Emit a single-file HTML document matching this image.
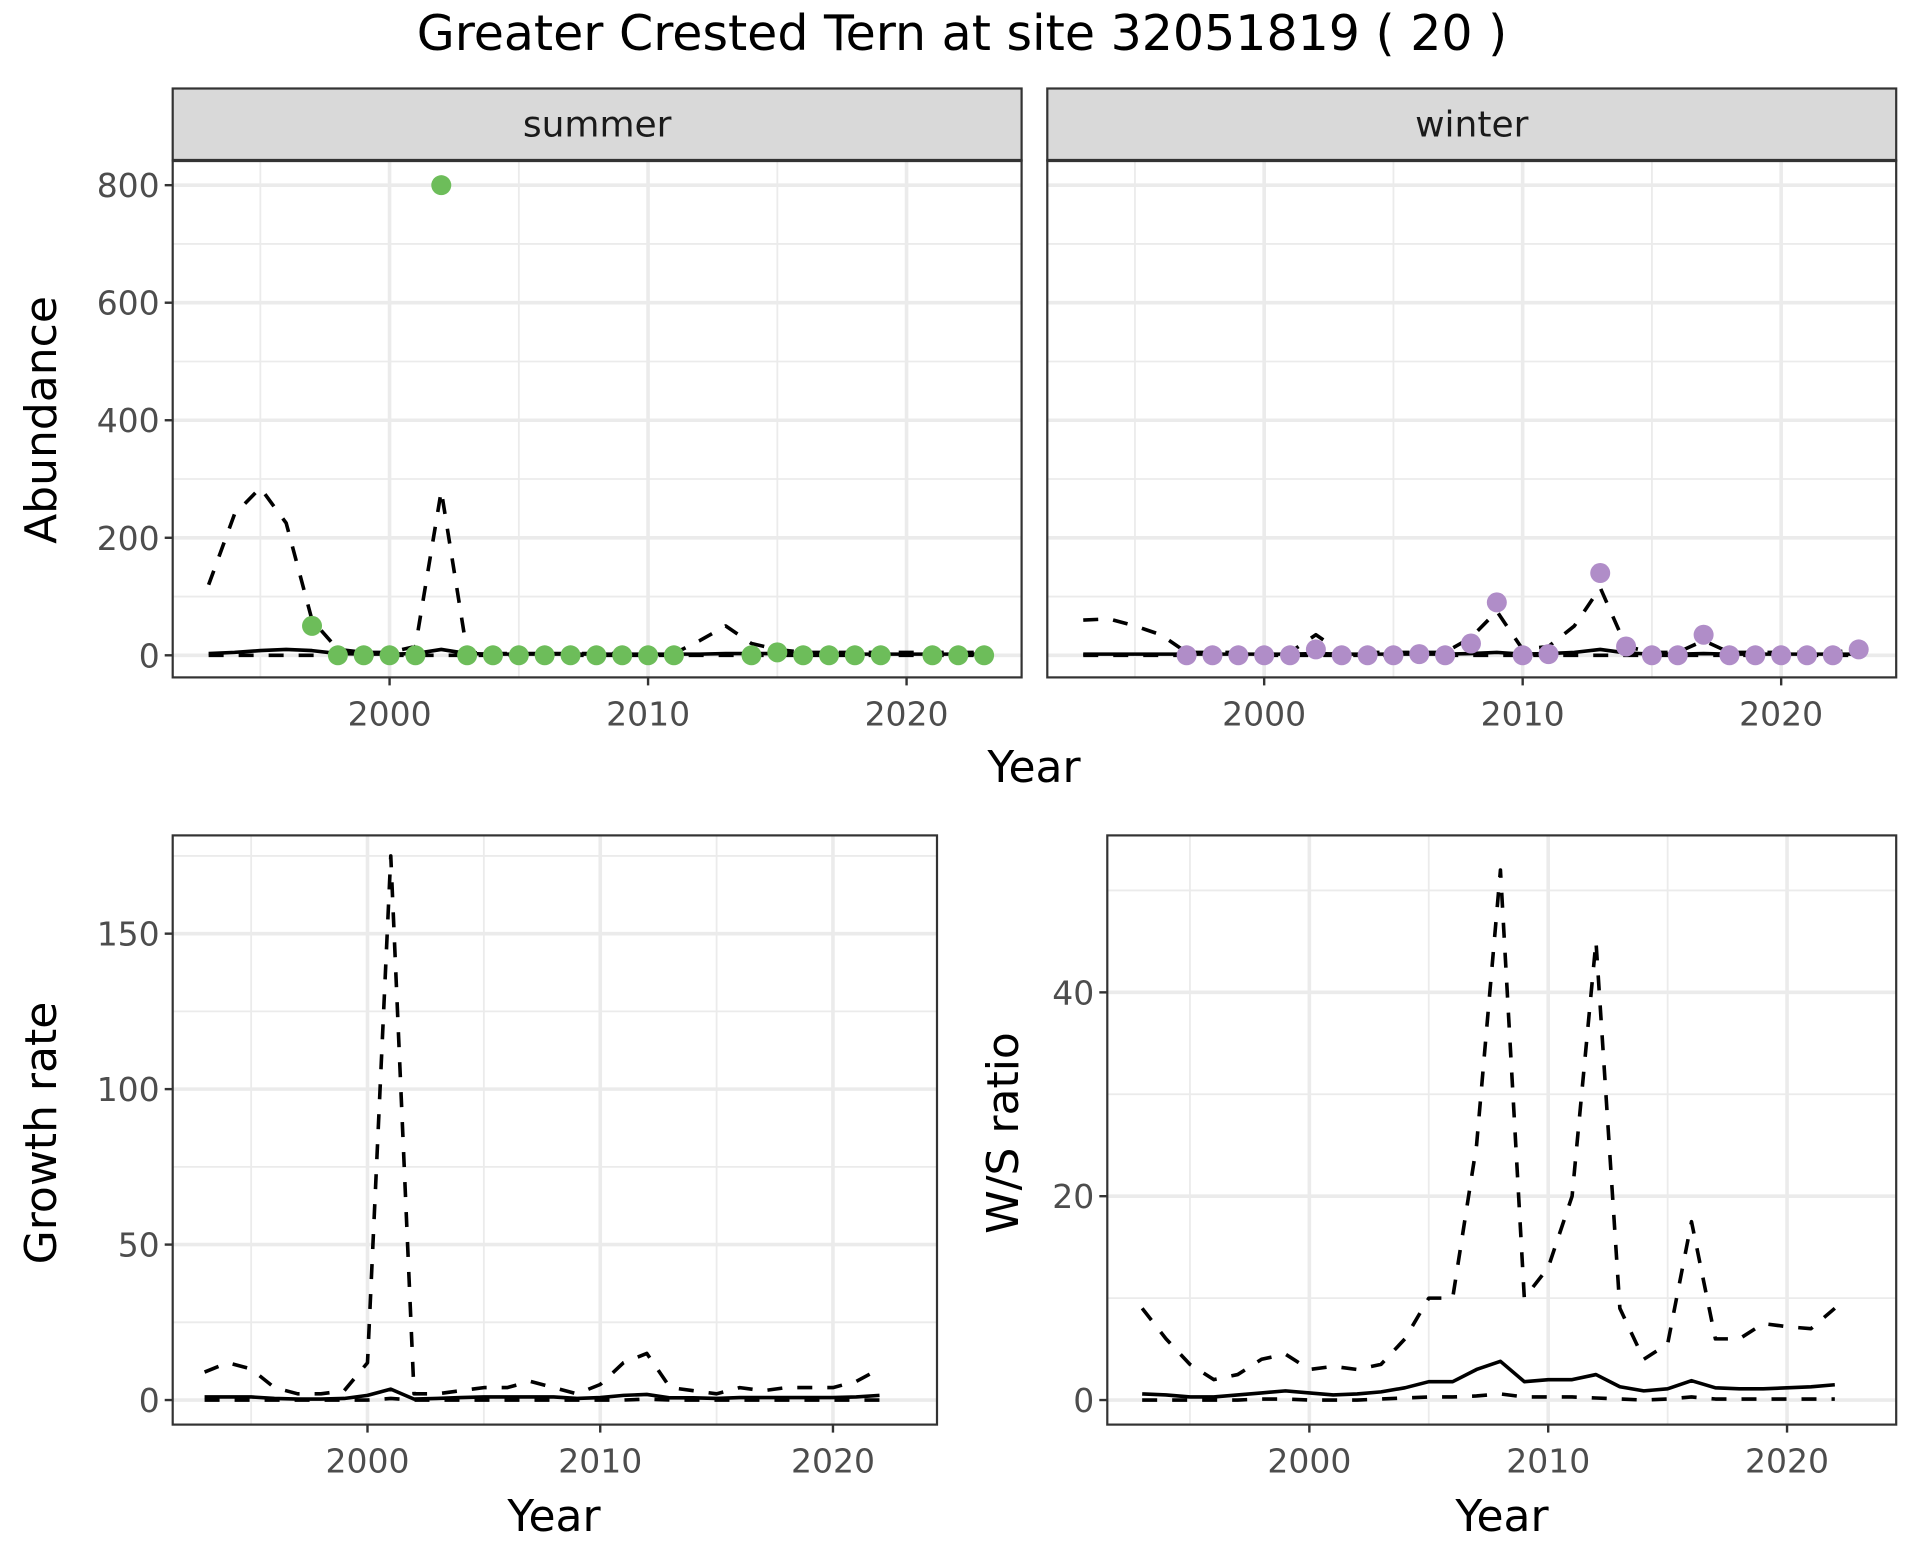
<!DOCTYPE html>
<html><head><meta charset="utf-8">
<style>
html,body{margin:0;padding:0;background:#fff;}
svg{display:block;font-family:"DejaVu Sans","Liberation Sans",sans-serif;}
</style></head>
<body>
<svg id="chart" width="1920" height="1560" viewBox="0 0 1920 1560" xmlns="http://www.w3.org/2000/svg">
<text x="962" y="50" font-size="49" text-anchor="middle" fill="#000">Greater Crested Tern at site 32051819 ( 20 )</text>
</svg>
<script>
const yearsAll = [1993,1994,1995,1996,1997,1998,1999,2000,2001,2002,2003,2004,2005,2006,2007,2008,2009,2010,2011,2012,2013,2014,2015,2016,2017,2018,2019,2020,2021,2022,2023];
const summerPtYears = [1997,1998,1999,2000,2001,2002,2003,2004,2005,2006,2007,2008,2009,2010,2011,2014,2015,2016,2017,2018,2019,2021,2022,2023];
const summerPtVals = [50,0,0,0,0,800,0,0,0,0,0,0,0,0,0,0,5,0,0,0,0,0,0,0];
const summerUpper = [120,240,285,225,60,10,5,5,15,280,5,3,3,3,3,3,3,3,3,25,50,20,10,5,5,5,5,5,5,5,5];
const summerMid = [3,5,8,10,8,3,2,2,3,10,3,2,2,2,2,2,2,2,2,2,3,3,3,2,2,2,2,2,2,2,2];
const summerLower = [0,0,0,0,0,0,0,0,0,0,0,0,0,0,0,0,0,0,0,0,0,0,0,0,0,0,0,0,0,0,0];
const winterPtYears = [1997,1998,1999,2000,2001,2002,2003,2004,2005,2006,2007,2008,2009,2010,2011,2013,2014,2015,2016,2017,2018,2019,2020,2021,2022,2023];
const winterPtVals = [0,0,0,0,0,10,0,0,0,2,0,20,90,0,2,140,15,0,0,35,0,0,0,0,0,10];
const winterUpper = [60,62,50,35,5,5,5,5,5,35,5,5,5,5,5,30,75,10,15,50,115,15,5,5,25,5,5,5,5,5,10];
const winterMid = [2,2,2,2,2,2,2,2,2,3,2,2,2,2,2,3,5,2,3,5,10,4,2,2,3,2,2,2,2,2,2];
const winterLower = [0,0,0,0,0,0,0,0,0,0,0,0,0,0,0,0,0,0,0,0,0,0,0,0,0,0,0,0,0,0,0];
const growthYears = [1993,1994,1995,1996,1997,1998,1999,2000,2001,2002,2003,2004,2005,2006,2007,2008,2009,2010,2011,2012,2013,2014,2015,2016,2017,2018,2019,2020,2021,2022];
const growthUpper = [9,12,10,4,2,2,3,12,175,2,2,3,4,4,6,4,2,5,12,15,4,3,2,4,3,4,4,4,6,10];
const growthMid = [1,1,1,0.5,0.3,0.3,0.5,1.5,3.5,0.3,0.5,0.8,1,1,1,1,0.5,0.8,1.5,1.8,0.7,0.7,0.5,0.8,0.8,0.8,0.8,0.8,1,1.5];
const growthLower = [0,0,0,0,0,0,0,0,0.5,0,0,0,0,0,0,0,0,0,0,0.3,0,0,0,0,0,0,0,0,0,0];
const ratioUpper = [9,6,3.5,2,2.5,4,4.5,3,3.3,3,3.5,6,10,10,25,52,10,13,20,45,9,4,5.5,17.5,6,6,7.5,7.2,7,9];
const ratioMid = [0.6,0.5,0.3,0.3,0.5,0.7,0.9,0.7,0.5,0.6,0.8,1.2,1.8,1.8,3,3.8,1.8,2,2,2.5,1.3,0.9,1.1,1.9,1.2,1.1,1.1,1.2,1.3,1.5];
const ratioLower = [0,0,0,0,0,0.1,0.1,0,0,0,0.1,0.2,0.3,0.3,0.4,0.6,0.3,0.3,0.3,0.2,0.1,0,0.1,0.3,0.1,0.1,0.1,0.1,0.1,0.1];
const xTicks = [2000,2010,2020];
const xMinor = [1995,2005,2015];
const abTicks = [0,200,400,600,800];
const abMinor = [100,300,500,700];
const grTicks = [0,50,100,150];
const grMinor = [25,75,125,175];
const raTicks = [0,20,40];
const raMinor = [10,30,50];

const NS='http://www.w3.org/2000/svg';
const svg=document.getElementById('chart');
function mk(tag,attrs,parent){const e=document.createElementNS(NS,tag);for(const k in attrs)e.setAttribute(k,attrs[k]);(parent||svg).appendChild(e);return e;}

function panel(o){
  const g=mk('g',{});
  
  
  const sx=v=>o.x0+(v-o.xd0)*(o.x1-o.x0)/(o.xd1-o.xd0);
  const sy=v=>o.y1-(v-o.yd0)*(o.y1-o.y0)/(o.yd1-o.yd0);
  mk('rect',{x:o.x0,y:o.y0,width:o.x1-o.x0,height:o.y1-o.y0,fill:'#fff'},g);
  o.yMinor.forEach(v=>{const y=sy(v);if(y>o.y0&&y<o.y1)mk('line',{x1:o.x0,x2:o.x1,y1:y,y2:y,stroke:'#ebebeb','stroke-width':1.8},g);});
  xMinor.forEach(v=>{const x=sx(v);mk('line',{x1:x,x2:x,y1:o.y0,y2:o.y1,stroke:'#ebebeb','stroke-width':1.8},g);});
  o.yTicks.forEach(v=>{const y=sy(v);mk('line',{x1:o.x0,x2:o.x1,y1:y,y2:y,stroke:'#ebebeb','stroke-width':3.6},g);});
  xTicks.forEach(v=>{const x=sx(v);mk('line',{x1:x,x2:x,y1:o.y0,y2:o.y1,stroke:'#ebebeb','stroke-width':3.6},g);});
  const line=(ys,vals,dash,nm)=>{
    const p=mk('polyline',{points:ys.map((yy,i)=>sx(yy)+','+sy(vals[i])).join(' '),fill:'none',stroke:'#000','stroke-width':3.6,'stroke-linejoin':'round'},g);
    if(dash)p.setAttribute('stroke-dasharray','15,15');
    
    
  };
  line(o.lx,o.lower,true,'lower-bound-line');
  line(o.lx,o.upper,true,'upper-bound-line');
  line(o.lx,o.mid,false,'estimate-line');
  if(o.px){o.px.forEach((yy,i)=>{
    const c=mk('circle',{cx:sx(yy),cy:sy(o.pv[i]),r:10,fill:o.color},g);
    
    
  });}
  mk('rect',{x:o.x0,y:o.y0,width:o.x1-o.x0,height:o.y1-o.y0,fill:'none',stroke:'#333','stroke-width':2.2},g);
  if(o.yLabels){o.yTicks.forEach(v=>{const y=sy(v);
    mk('line',{x1:o.x0-8,x2:o.x0,y1:y,y2:y,stroke:'#333','stroke-width':2.4},g);
    const t=mk('text',{x:o.x0-13,y:y+12,'font-size':33,'text-anchor':'end',fill:'#4d4d4d'},g);t.textContent=v;
    
    
  });}
  xTicks.forEach(v=>{const x=sx(v);
    mk('line',{x1:x,x2:x,y1:o.y1,y2:o.y1+8,stroke:'#333','stroke-width':2.4},g);
    const t=mk('text',{x:x,y:o.y1+48,'font-size':33,'text-anchor':'middle',fill:'#4d4d4d'},g);t.textContent=v;
    
    
  });
  if(o.strip){
    mk('rect',{x:o.x0,y:o.y0-72,width:o.x1-o.x0,height:72,fill:'#d9d9d9',stroke:'#333','stroke-width':2.2},g);
    mk('line',{x1:o.x0,x2:o.x1,y1:o.y0,y2:o.y0,stroke:'#333','stroke-width':3.2},g);
    const t=mk('text',{x:(o.x0+o.x1)/2,y:o.y0-24,'font-size':36,'text-anchor':'middle',fill:'#1a1a1a'},g);t.textContent=o.strip;
    
    
  }
}
function label(txt,x,y,rot,nm){
  const t=mk('text',{x:x,y:y,'font-size':44,'text-anchor':'middle',fill:'#000'});
  if(rot)t.setAttribute('transform','rotate(-90 '+x+' '+y+')');
  t.textContent=txt;
  
  
}
const abY={y0:160.5,y1:677.4,yd0:-37.6,yd1:842,yTicks:abTicks,yMinor:abMinor};
panel(Object.assign({name:'summer-panel',x0:172.7,x1:1021.6,xd0:1991.61,xd1:2024.45,lx:yearsAll,upper:summerUpper,mid:summerMid,lower:summerLower,px:summerPtYears,pv:summerPtVals,color:'#6dbd5a',yLabels:true,strip:'summer'},abY));
panel(Object.assign({name:'winter-panel',x0:1047.3,x1:1896.2,xd0:1991.61,xd1:2024.45,lx:yearsAll,upper:winterUpper,mid:winterMid,lower:winterLower,px:winterPtYears,pv:winterPtVals,color:'#b08dc8',yLabels:false,strip:'winter'},abY));
panel({name:'growth-rate-panel',x0:172.7,x1:937,y0:835.4,y1:1424.6,xd0:1991.63,xd1:2024.47,yd0:-7.9,yd1:181.6,yTicks:grTicks,yMinor:grMinor,lx:growthYears,upper:growthUpper,mid:growthMid,lower:growthLower,yLabels:true});
panel({name:'ws-ratio-panel',x0:1107.3,x1:1896.2,y0:835.4,y1:1424.6,xd0:1991.54,xd1:2024.57,yd0:-2.41,yd1:55.4,yTicks:raTicks,yMinor:raMinor,lx:growthYears,upper:ratioUpper,mid:ratioMid,lower:ratioLower,yLabels:true});
label('Abundance',56,420,true,'y-axis-title-abundance');
label('Year',1034,782,false,'x-axis-title-top');
label('Growth rate',56,1133,true,'y-axis-title-growth');
label('Year',554,1531,false,'x-axis-title-growth');
label('W/S ratio',1018,1133,true,'y-axis-title-ratio');
label('Year',1502,1531,false,'x-axis-title-ratio');
</script>
</body></html>
